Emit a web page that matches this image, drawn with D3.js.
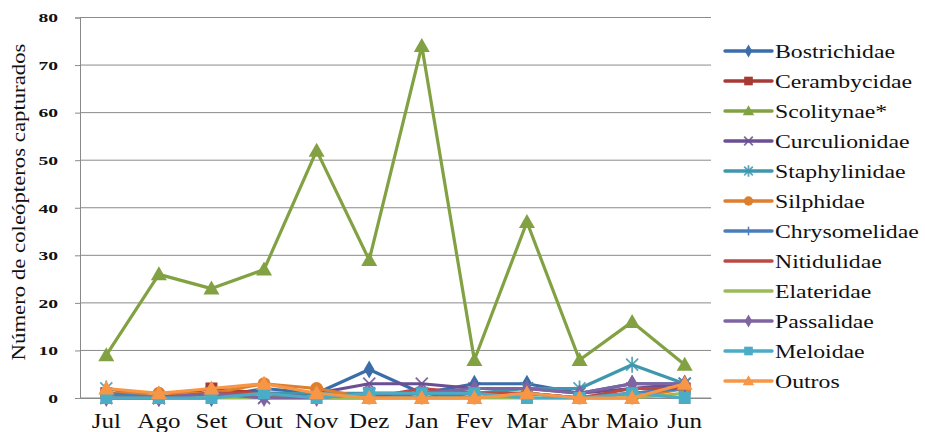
<!DOCTYPE html>
<html>
<head>
<meta charset="utf-8">
<script src="https://cdn.jsdelivr.net/npm/d3@7/dist/d3.min.js"></script>
<style>
  html, body { margin: 0; padding: 0; background: #fff; }
  svg { display: block; }
  svg text { font-family: "Liberation Serif", "Times New Roman", Tinos, "DejaVu Serif", "Noto Serif", serif !important; fill: #111; }
</style>
</head>
<body>
<svg id="chart" width="925" height="432"></svg>
<script>
// Monthly captures of beetle families
const months = ["Jul", "Ago", "Set", "Out", "Nov", "Dez", "Jan", "Fev", "Mar", "Abr", "Maio", "Jun"];
const yTicks = [0, 10, 20, 30, 40, 50, 60, 70, 80];

const bostrichidae   = [1, 0, 0, 2, 1, 6, 1, 3, 3, 1, 3, 3];
const cerambycidae   = [1, 0, 2, 1, 1, 0, 1, 0, 1, 0, 1, 2];
const scolitynae     = [9, 26, 23, 27, 52, 29, 74, 8, 37, 8, 16, 7];
const curculionidae  = [0, 0, 1, 0, 1, 3, 3, 2, 2, 1, 2, 3];
const staphylinidae  = [2, 0, 1, 1, 1, 1, 1, 1, 2, 2, 7, 3];
const silphidae      = [1, 1, 1, 3, 2, 0, 0, 0, 1, 0, 0, 2];
const chrysomelidae  = [1, 0, 0, 1, 0, 1, 0, 1, 1, 0, 1, 2];
const nitidulidae    = [0, 0, 1, 1, 0, 0, 2, 1, 1, 0, 2, 2];
const elateridae     = [0, 0, 0, 0, 0, 0, 0, 0, 0, 0, 0, 1];
const passalidae     = [0, 0, 1, 0, 0, 1, 1, 2, 2, 1, 3, 3];
const meloidae       = [0, 0, 0, 1, 0, 1, 1, 1, 0, 0, 1, 0];
const outros         = [2, 1, 2, 3, 1, 0, 0, 0, 1, 0, 0, 3];

const series = [
  { name: "Bostrichidae",  values: bostrichidae,  color: "#3B6DAA", marker: "diamond" },
  { name: "Cerambycidae",  values: cerambycidae,  color: "#A83A35", marker: "square" },
  { name: "Scolitynae*",   values: scolitynae,    color: "#82A142", marker: "triangle" },
  { name: "Curculionidae", values: curculionidae, color: "#6A4F92", marker: "x" },
  { name: "Staphylinidae", values: staphylinidae, color: "#3F97AE", marker: "star" },
  { name: "Silphidae",     values: silphidae,     color: "#DD7F2E", marker: "circle" },
  { name: "Chrysomelidae", values: chrysomelidae, color: "#4A7EBB", marker: "plus" },
  { name: "Nitidulidae",   values: nitidulidae,   color: "#BB4A45", marker: "none" },
  { name: "Elateridae",    values: elateridae,    color: "#9BBB59", marker: "none" },
  { name: "Passalidae",    values: passalidae,    color: "#7F64A2", marker: "diamond" },
  { name: "Meloidae",      values: meloidae,      color: "#4BACC6", marker: "square" },
  { name: "Outros",        values: outros,        color: "#F79646", marker: "triangle" }
];

const svg = d3.select("#chart");
const plot = { left: 80, right: 711, top: 17.5, bottom: 398 };
const stretch = 1.25;   // wide lettering

const x = d3.scaleBand().domain(months).range([plot.left, plot.right]);
const y = d3.scaleLinear().domain([0, 80]).range([plot.bottom, plot.top]);
const cx = m => x(m) + x.bandwidth() / 2;

// horizontal gridlines
svg.append("g")
  .selectAll("line")
  .data(yTicks)
  .join("line")
  .attr("x1", plot.left).attr("x2", plot.right)
  .attr("y1", d => y(d)).attr("y2", d => y(d))
  .attr("stroke", "#8a8a8a").attr("stroke-width", 1);

// y axis
const yAxis = svg.append("g")
  .attr("transform", `translate(${plot.left},0)`)
  .call(d3.axisLeft(y).tickValues(yTicks).tickSize(5).tickPadding(0));
yAxis.attr("font-family", null);
yAxis.select(".domain").attr("stroke", "#8a8a8a");
yAxis.selectAll(".tick line").attr("stroke", "#8a8a8a");
yAxis.selectAll(".tick text")
  .attr("x", 0)
  .attr("transform", "translate(-22,0) scale(1.45,1)")
  .attr("font-size", 13.5).attr("font-weight", "bold").attr("fill", "#222");

// x axis
const xAxis = svg.append("g")
  .attr("transform", `translate(0,${plot.bottom})`)
  .call(d3.axisBottom(x).tickSize(0).tickPadding(0));
xAxis.attr("font-family", null);
xAxis.select(".domain").attr("stroke", "#8a8a8a");
xAxis.selectAll(".tick text")
  .attr("y", 0)
  .attr("dy", null)
  .attr("transform", `translate(0,30) scale(${stretch},1)`)
  .attr("font-size", 20).attr("fill", "#111");

// y axis title
svg.append("text")
  .attr("transform", "translate(25,202) rotate(-90) scale(1.2,1)")
  .attr("text-anchor", "middle")
  .attr("font-size", 19)
  .text("Número de coleópteros capturados");

// marker drawing
function drawMarker(g, type, color, s) {
  const k = s || 1;
  if (type === "diamond") {
    g.append("path").attr("d", d3.symbol(d3.symbolDiamond, 95 * k * k)()).attr("fill", color);
  } else if (type === "square") {
    g.append("rect").attr("x", -6 * k).attr("y", -6 * k).attr("width", 12 * k).attr("height", 12 * k).attr("fill", color);
  } else if (type === "triangle") {
    g.append("path").attr("d", `M0,${-8 * k}L${8 * k},${6 * k}L${-8 * k},${6 * k}Z`).attr("fill", color);
  } else if (type === "circle") {
    g.append("circle").attr("r", 6.5 * k).attr("fill", color);
  } else if (type === "x") {
    g.append("path").attr("d", `M${-6 * k},${-6 * k}L${6 * k},${6 * k}M${-6 * k},${6 * k}L${6 * k},${-6 * k}`)
      .attr("stroke", color).attr("stroke-width", 1.8).attr("fill", "none").attr("opacity", 0.85);
  } else if (type === "star") {
    g.append("path").attr("d", `M${-6 * k},${-6 * k}L${6 * k},${6 * k}M${-6 * k},${6 * k}L${6 * k},${-6 * k}M0,${-8 * k}L0,${8 * k}`)
      .attr("stroke", color).attr("stroke-width", 1.8).attr("fill", "none").attr("opacity", 0.85);
  } else if (type === "plus") {
    g.append("path").attr("d", `M0,${-6 * k}L0,${6 * k}`).attr("stroke", color).attr("stroke-width", 1.5).attr("fill", "none");
  }
}

const line = d3.line().x((d, i) => cx(months[i])).y(d => y(d));

series.forEach(s => {
  const g = svg.append("g");
  g.append("path")
    .datum(s.values)
    .attr("d", line)
    .attr("fill", "none")
    .attr("stroke", s.color)
    .attr("stroke-width", 3.2)
    .attr("stroke-linejoin", "round");
  s.values.forEach((v, i) => {
    const mg = g.append("g").attr("transform", `translate(${cx(months[i])},${y(v)})`);
    drawMarker(mg, s.marker, s.color, 1);
  });
});

// legend
const legend = svg.append("g");
series.forEach((s, i) => {
  const ly = 51 + i * 30;
  const lg = legend.append("g").attr("transform", `translate(0,${ly})`);
  lg.append("line").attr("x1", 725).attr("x2", 772).attr("y1", 0).attr("y2", 0)
    .attr("stroke", s.color).attr("stroke-width", 3.4).attr("stroke-linecap", "round");
  const mg = lg.append("g").attr("transform", "translate(748.5,0)");
  drawMarker(mg, s.marker, s.color, 0.72);
  lg.append("text")
    .attr("transform", `translate(775,6.5) scale(${stretch},1)`)
    .attr("font-size", 19).text(s.name);
});
</script>
</body>
</html>
